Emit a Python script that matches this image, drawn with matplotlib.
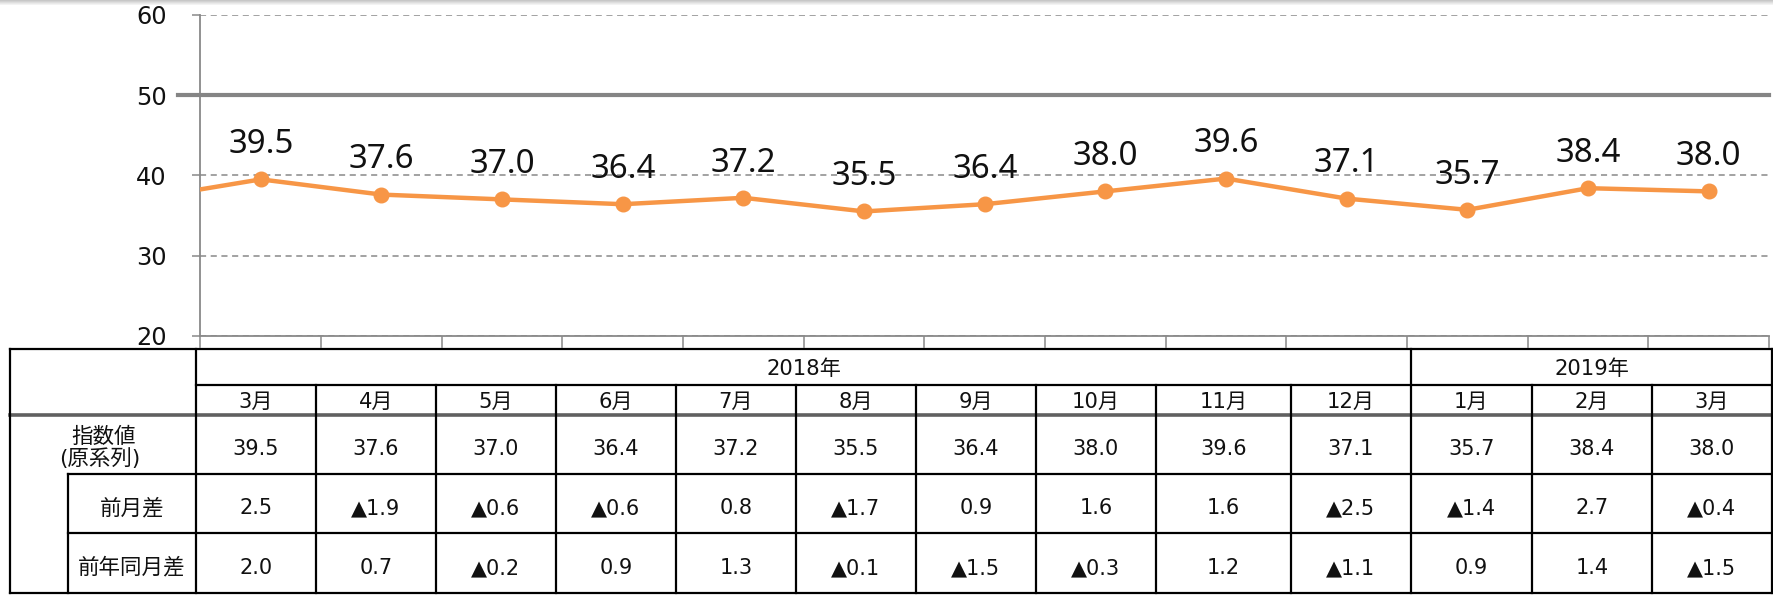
import numpy as np
import matplotlib
matplotlib.use("Agg")
import matplotlib.pyplot as plt

plt.rcParams['font.family'] = ['DejaVu Sans', 'Noto Sans CJK JP']

# ---------------- data ----------------
months = ["3月", "4月", "5月", "6月", "7月", "8月", "9月", "10月", "11月", "12月", "1月", "2月", "3月"]
years = ["2018年", "2019年"]
year_spans = [10, 3]           # number of months under each year
prev_value = 37.0              # Feb 2018 (line enters from the left edge)
values = [39.5, 37.6, 37.0, 36.4, 37.2, 35.5, 36.4, 38.0, 39.6, 37.1, 35.7, 38.4, 38.0]
mom = [2.5, -1.9, -0.6, -0.6, 0.8, -1.7, 0.9, 1.6, 1.6, -2.5, -1.4, 2.7, -0.4]
yoy = [2.0, 0.7, -0.2, 0.9, 1.3, -0.1, -1.5, -0.3, 1.2, -1.1, 0.9, 1.4, -1.5]
row_labels = ["指数値", "(原系列)", "前月差", "前年同月差"]
y_ticks = [20, 30, 40, 50, 60]
ref_level = 50

# ---------------- figure ----------------
W, H = 1774, 596
fig = plt.figure(figsize=(W / 100, H / 100), dpi=100)

GRAY = '#898989'
ORANGE = '#F79646'
TXT = '#111111'

# main chart axes (pixel geometry)
ax_l, ax_r, ax_t, ax_b = 200.5, 1769, 15, 335.7
ax = fig.add_axes([ax_l / W, (H - ax_b) / H, (ax_r - ax_l) / W, (ax_b - ax_t) / H])
n = len(values)
ax.set_xlim(-0.5, n - 0.5)
ax.set_ylim(y_ticks[0], y_ticks[-1])

xs = np.arange(-1, n)
ys = [prev_value] + values
ax.plot(xs, ys, color=ORANGE, lw=3.2, zorder=4, solid_capstyle='round')
ax.plot(np.arange(n), values, 'o', color=ORANGE, ms=10.5, zorder=5)

for i, v in enumerate(values):
    ax.annotate(f"{v:.1f}", (i, v), xytext=(0, 18.8), textcoords='offset points',
                ha='center', va='baseline', fontsize=23.8, family=['Noto Sans'],
                color=TXT, zorder=6)

# grid
ax.set_yticks(y_ticks)
ax.yaxis.grid(True, linestyle=(0, (4, 3)), color=GRAY, lw=1.1, zorder=0)
ax.set_axisbelow(True)
ax.axhline(ref_level, xmin=-(ax_l - 178) / (ax_r - ax_l), xmax=1.0, color='#858585',
           lw=3.0, clip_on=False, zorder=3)

ax.tick_params(axis='y', length=5.8, width=1.1, color=GRAY, pad=18.5,
               labelsize=17.3, labelcolor=TXT)
ax.set_xticks([])
ax.set_xticks(np.arange(-0.5, n, 1.0), minor=True)
ax.tick_params(axis='x', which='minor', length=8.6, width=1.1, color=GRAY)
for s in ['top', 'right']:
    ax.spines[s].set_visible(False)
for s in ['left', 'bottom']:
    ax.spines[s].set_color(GRAY)
    ax.spines[s].set_linewidth(1.3)
ax.patch.set_alpha(0)

# ---------------- table (overlay in pixel coordinates) ----------------
ov = fig.add_axes([0, 0, 1, 1], zorder=-1)
ov.axis('off')

# top shadow
grad = np.linspace(0.78, 1.0, 6).reshape(-1, 1)
ov.imshow(grad, cmap='gray', vmin=0, vmax=1, extent=(0, W, 6, 0), aspect='auto')
ov.set_xlim(0, W)
ov.set_ylim(H, 0)

x0, xin, xlab = 10, 68, 196
col_edges = [196, 316, 436, 556, 676, 796, 916, 1036, 1156, 1291, 1411, 1532, 1652, 1772]
xR = col_edges[-1]
r = [349, 385, 414.5, 474, 533, 593]
LW = 1.6
K = 'black'

def hl(y, xa, xb):
    ov.plot([xa, xb], [y, y], color=K, lw=LW, solid_capstyle='projecting')

def vl(x, ya, yb):
    ov.plot([x, x], [ya, yb], color=K, lw=LW, solid_capstyle='projecting')

hl(r[0], x0, xR)
hl(r[1], xlab, xR)
hl(r[3], xin, xR)
hl(r[4], xin, xR)
hl(r[5], x0, xR)
ov.plot([x0, xR], [r[2], r[2]], color='#606060', lw=2.6)

vl(x0, r[0], r[5])
vl(xlab, r[0], r[5])
vl(xin, r[3], r[5])
vl(xR, r[0], r[5])
cum = np.cumsum(year_spans)
for c in cum[:-1]:
    vl(col_edges[c], r[0], r[5])
for j, e in enumerate(col_edges[1:-1], start=1):
    if j not in cum:
        vl(e, r[1], r[5])

FS_J = 15.2
FS_L = 15.5
FS_N = 15
start = 0
for yl, sp in zip(years, year_spans):
    cx = (col_edges[start] + col_edges[start + sp]) / 2
    ov.text(cx, (r[0] + r[1]) / 2 + 8, yl, ha='center', va='baseline', fontsize=FS_J, color=TXT)
    start += sp

def fmt(v):
    return f"{v:.1f}" if v >= 0 else f"▲{abs(v):.1f}"

for i in range(n):
    cx = (col_edges[i] + col_edges[i + 1]) / 2
    ov.text(cx, (r[1] + r[2]) / 2 + 8.5, months[i], ha='center', va='baseline', fontsize=FS_J, color=TXT)
    ov.text(cx, (r[2] + r[3]) / 2 + 11, f"{values[i]:.1f}", ha='center', va='baseline', fontsize=FS_N, color=TXT)
    ov.text(cx, (r[3] + r[4]) / 2 + 11, fmt(mom[i]), ha='center', va='baseline', fontsize=FS_N, color=TXT)
    ov.text(cx, (r[4] + r[5]) / 2 + 11, fmt(yoy[i]), ha='center', va='baseline', fontsize=FS_N, color=TXT)

ov.text((x0 + xlab) / 2 + 1, 443, row_labels[0], ha='center', va='baseline', fontsize=FS_L, color=TXT)
ov.text((x0 + xlab) / 2 - 3, 465, row_labels[1], ha='center', va='baseline', fontsize=FS_L, color=TXT)
ov.text((xin + xlab) / 2, (r[3] + r[4]) / 2 + 10.5, row_labels[2], ha='center', va='baseline', fontsize=FS_L, color=TXT)
ov.text((xin + xlab) / 2, (r[4] + r[5]) / 2 + 10.5, row_labels[3], ha='center', va='baseline', fontsize=FS_L, color=TXT)

fig.savefig("out.png", dpi=100)
